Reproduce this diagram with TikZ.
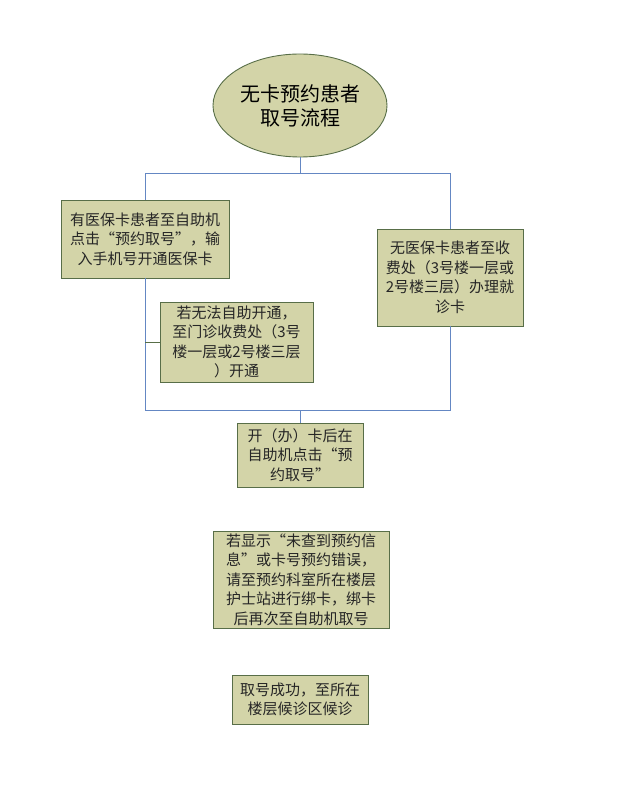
\documentclass[tikz,border=0pt]{standalone}
\usepackage{fontspec}
\newfontfamily\cjk{Noto Sans CJK SC}
\usetikzlibrary{shapes.geometric}
\definecolor{boxfill}{RGB}{211,212,168}
\definecolor{boxline}{RGB}{88,110,72}
\definecolor{linkblue}{RGB}{100,135,195}

\begin{document}
\begin{tikzpicture}[x=1pt,y=-1pt]
      \tikzset{ title/.style  ={draw=boxline, ellipse, fill=boxfill, line width=0.9pt, inner sep=0pt, align=center, text=black, font=\cjk\fontsize{20}{24}\selectfont} }
      \tikzset{ stepbox/.style={draw=boxline, rectangle, fill=boxfill, line width=0.9pt, inner sep=0pt, align=center, text=black!85, font=\cjk\fontsize{15}{19.5}\selectfont} }
      \tikzset{ link/.style   ={draw=linkblue, line width=1pt} }
      \tikzset{ branch/.style ={draw=boxline, line width=1pt} }

      \path[use as bounding box] (0,0) rectangle (616,794);

      \node[title,   minimum width=174, minimum height=103] (start)  at (300,105.5) {无卡预约患者\\取号流程};
      \node[stepbox, minimum width=168, minimum height=78 ] (card)   at (145,239)   {有医保卡患者至自助机\\点击“预约取号”，输\\入手机号开通医保卡};
      \node[stepbox, minimum width=153, minimum height=80 ] (retry)  at (236.5,342) {若无法自助开通，\\至门诊收费处（3号\\楼一层或2号楼三层\\）开通};
      \node[stepbox, minimum width=146, minimum height=97 ] (nocard) at (450,277.5) {无医保卡患者至收\\费处（3号楼一层或\\2号楼三层）办理就\\诊卡};
      \node[stepbox, minimum width=126, minimum height=64 ] (open)   at (300,455)   {开（办）卡后在\\自助机点击“预\\约取号”};
      \node[stepbox, minimum width=176, minimum height=97 ] (bind)   at (301,579.5) {若显示“未查到预约信\\息”或卡号预约错误，\\请至预约科室所在楼层\\护士站进行绑卡，绑卡\\后再次至自助机取号};
      \node[stepbox, minimum width=136, minimum height=49 ] (done)   at (300,699.5) {取号成功，至所在\\楼层候诊区候诊};

      \coordinate (split) at (300,174);
      \coordinate (merge) at (300,410);
      \coordinate (fork)  at (card.south |- retry.west);

      \draw[link] (start) -- (split);
      \draw[link] (split) -| (card);
      \draw[link] (split) -| (nocard);
      \draw[link] (card) |- (merge);
      \draw[link] (nocard) |- (merge);
      \draw[link] (merge) -- (open);
      \draw[branch] (fork) -- (retry);
\end{tikzpicture}
\end{document}
